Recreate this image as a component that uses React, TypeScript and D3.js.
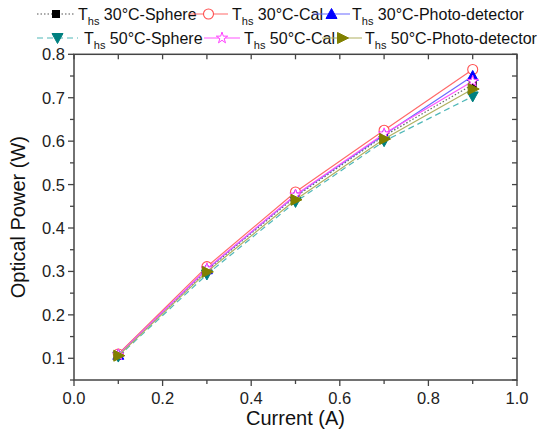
import React from "react";
import * as d3 from "d3";

const currents = [0.1, 0.3, 0.5, 0.7, 0.9];
const sphere30 = [0.107, 0.303, 0.472, 0.612, 0.73];
const cal30 = [0.11, 0.311, 0.483, 0.625, 0.765];
const pd30 = [0.108, 0.305, 0.475, 0.615, 0.75];
const sphere50 = [0.104, 0.293, 0.46, 0.6, 0.703];
const cal50 = [0.108, 0.306, 0.476, 0.617, 0.738];
const pd50 = [0.106, 0.299, 0.465, 0.605, 0.72];

const seriesLabels = ["30°C-Sphere", "30°C-Cal", "30°C-Photo-detector", "50°C-Sphere", "50°C-Cal", "50°C-Photo-detector"];
const xTicks = [0, 0.2, 0.4, 0.6, 0.8, 1.0];
const yTicks = [0.1, 0.2, 0.3, 0.4, 0.5, 0.6, 0.7, 0.8];

const W = 554, H = 436;
const L = 74, R = 517, T = 54.3, B = 380;
const FONT = "'Liberation Sans', Arial, sans-serif";

type S = { values: number[]; label: string; line: string; mark: string; dash?: string; shape: string; fill: boolean; opacity: number };
const series: S[] = [
  { values: sphere30, label: seriesLabels[0], line: "#555", mark: "#000", dash: "1.5,2", shape: "square", fill: true, opacity: 0.9 },
  { values: cal30, label: seriesLabels[1], line: "#ff6a6a", mark: "#ff5050", shape: "circle", fill: false, opacity: 1 },
  { values: pd30, label: seriesLabels[2], line: "#6a6aff", mark: "#0000ff", shape: "up", fill: true, opacity: 1 },
  { values: sphere50, label: seriesLabels[3], line: "#50b8b8", mark: "#008080", dash: "6,4", shape: "down", fill: true, opacity: 1 },
  { values: cal50, label: seriesLabels[4], line: "#ff55ff", mark: "#ff40ff", shape: "star", fill: false, opacity: 1 },
  { values: pd50, label: seriesLabels[5], line: "#b0b060", mark: "#808000", shape: "right", fill: true, opacity: 1 },
];

function Marker({ shape, x, y, color, fill }: { shape: string; x: number; y: number; color: string; fill: boolean }) {
  const f = fill ? color : "white";
  if (shape === "square") return <rect x={x - 3.5} y={y - 3.5} width={7} height={7} fill={f} stroke={color} />;
  if (shape === "circle") return <circle cx={x} cy={y} r={5} fill={f} stroke={color} strokeWidth={1.1} />;
  if (shape === "up") return <path d={`M${x},${y - 5.5}L${x + 5.5},${y + 4.5}L${x - 5.5},${y + 4.5}Z`} fill={f} stroke={color} />;
  if (shape === "down") return <path d={`M${x},${y + 5.5}L${x + 5.5},${y - 4.5}L${x - 5.5},${y - 4.5}Z`} fill={f} stroke={color} />;
  if (shape === "right") return <path d={`M${x + 6.5},${y}L${x - 4.5},${y + 5.5}L${x - 4.5},${y - 5.5}Z`} fill={f} stroke={color} />;
  const sym = d3.symbol().type(d3.symbolStar).size(40)();
  return <path d={sym || ""} transform={`translate(${x},${y})`} fill={f} stroke={color} strokeWidth={1} />;
}

export default function App() {
  const x = d3.scaleLinear().domain([0, 1]).range([L, R]);
  const y = d3.scaleLinear().domain([0.05, 0.8]).range([B, T]);
  const line = d3.line<number>().x((_, i) => x(currents[i])).y((d) => y(d));
  const xMinor = d3.range(0, 1.001, 0.1);
  const yMinor = d3.range(0.05, 0.801, 0.05);
  const axisColor = "#444";

  const legendPos = [
    { x0: 37, x1: 75, tx: 78, ty: 20 },
    { x0: 189, x1: 228, tx: 232, ty: 20 },
    { x0: 313, x1: 350, tx: 352, ty: 20 },
    { x0: 37, x1: 78, tx: 84, ty: 44 },
    { x0: 204, x1: 240, tx: 244, ty: 44 },
    { x0: 322, x1: 362, tx: 365, ty: 44 },
  ];

  return (
    <svg width={W} height={H} style={{ position: "absolute", left: 0, top: 0, background: "white" }} fontFamily={FONT}>
      <rect x={0} y={0} width={W} height={H} fill="white" />
      <rect x={L} y={T} width={R - L} height={B - T} fill="none" stroke={axisColor} strokeWidth={1.5} />
      {xMinor.map((v, i) => {
        const major = i % 2 === 0;
        return (
          <g key={"xt" + i} stroke={axisColor} strokeWidth={1.3}>
            <line x1={x(v)} x2={x(v)} y1={B} y2={B + (major ? 6 : 4)} />
            <line x1={x(v)} x2={x(v)} y1={T} y2={T + 5} />
          </g>
        );
      })}
      {yMinor.map((v, i) => {
        const major = i % 2 === 1;
        return (
          <g key={"yt" + i} stroke={axisColor} strokeWidth={1.3}>
            <line x1={L} x2={L - (major ? 6 : 4)} y1={y(v)} y2={y(v)} />
            <line x1={R} x2={R - 5} y1={y(v)} y2={y(v)} />
          </g>
        );
      })}
      {xTicks.map((v) => (
        <text key={"xl" + v} x={x(v)} y={B + 24} textAnchor="middle" fontSize={16.5} fill="#222">
          {v.toFixed(1)}
        </text>
      ))}
      {yTicks.map((v) => (
        <text key={"yl" + v} x={L - 9} y={y(v) + 6} textAnchor="end" fontSize={16.5} fill="#222">
          {v.toFixed(1)}
        </text>
      ))}
      <text x={(L + R) / 2} y={425} textAnchor="middle" fontSize={20} fill="#111">Current (A)</text>
      <text transform={`translate(25,${(T + B) / 2}) rotate(-90)`} textAnchor="middle" fontSize={20} fill="#111">
        Optical Power (W)
      </text>
      {series.map((s, k) => (
        <g key={"s" + k}>
          <path d={line(s.values) || ""} fill="none" stroke={s.line} strokeWidth={1.2} strokeDasharray={s.dash} opacity={s.opacity} />
          {s.values.map((v, i) => (
            <Marker key={i} shape={s.shape} x={x(currents[i])} y={y(v)} color={s.mark} fill={s.fill} />
          ))}
        </g>
      ))}
      {series.map((s, k) => {
        const p = legendPos[k];
        const cy = p.ty - 6;
        return (
          <g key={"lg" + k}>
            <line x1={p.x0} x2={p.x1} y1={cy} y2={cy} stroke={s.line} strokeWidth={1.2} strokeDasharray={s.dash} />
            <Marker shape={s.shape} x={(p.x0 + p.x1) / 2} y={cy} color={s.mark} fill={s.fill} />
            <text x={p.tx} y={p.ty} fontSize={16} fill="#111">
              T<tspan fontSize={11} dy={5}>hs</tspan>
              <tspan dy={-5}>{" " + s.label}</tspan>
            </text>
          </g>
        );
      })}
    </svg>
  );
}
